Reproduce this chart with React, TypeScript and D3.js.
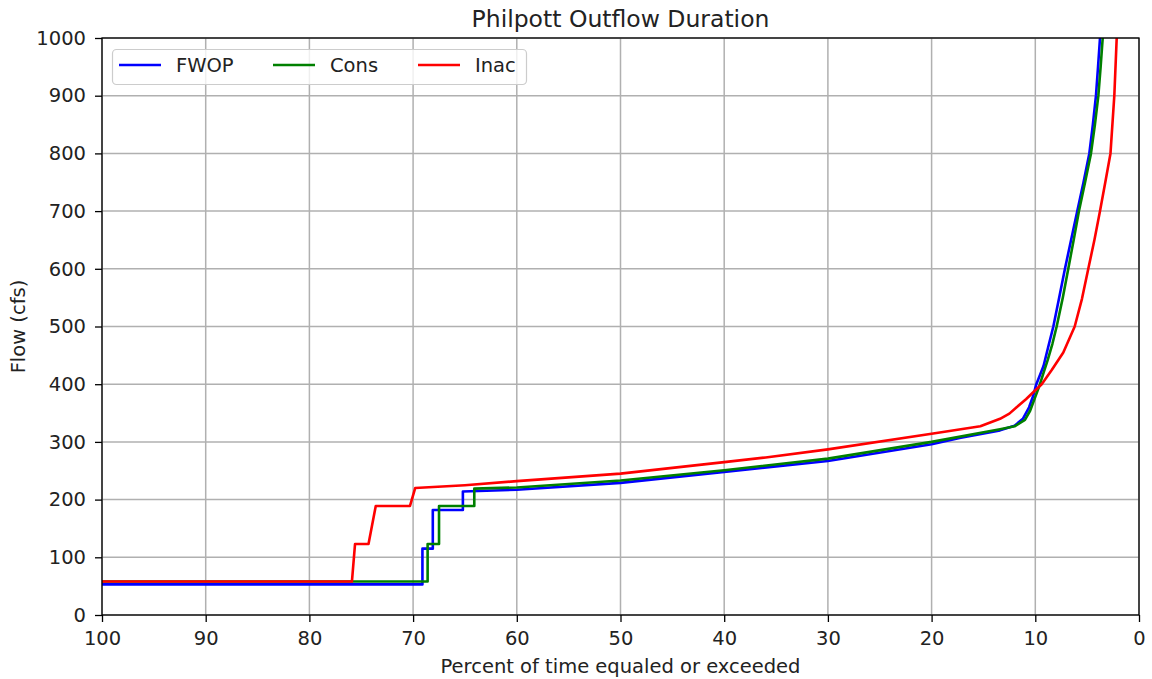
import React, { useEffect, useRef } from "react";
import * as d3 from "d3";

// flow duration curves: [percent exceeded, flow cfs]
const fwop: [number, number][] = [
  [100, 53], [69.1, 53], [69.1, 115], [68.1, 115], [68.1, 182], [65.2, 182], [65.2, 214],
  [60, 217], [50, 229], [40, 248], [30, 267], [20, 296], [17.3, 307], [13.4, 320],
  [12, 328], [11.2, 340], [10.6, 360], [10.2, 380], [9.9, 400], [9.5, 418], [9.2, 432],
  [8.75, 465], [8.26, 500], [7.7, 550], [7.14, 600], [6.55, 650], [5.95, 700], [5.35, 750],
  [4.79, 800], [4.45, 850], [4.15, 900], [3.95, 950], [3.76, 1000], [3.4, 1100],
];

const cons: [number, number][] = [
  [100, 58], [68.6, 58], [68.6, 123], [67.5, 123], [67.5, 189], [64.1, 189], [64.1, 219],
  [60, 221], [50, 233], [40, 251], [30, 271], [20, 300], [13.4, 322], [12, 327],
  [11, 338], [10.5, 354], [10, 378], [9.55, 400], [9.2, 420], [8.8, 442], [8.35, 470],
  [7.94, 500], [7.35, 550], [6.82, 600], [6.3, 650], [5.79, 700], [5.2, 750], [4.63, 800],
  [4.25, 850], [3.92, 900], [3.7, 950], [3.5, 1000], [3.15, 1100],
];

const inac: [number, number][] = [
  [100, 58], [75.9, 58], [75.6, 123], [74.3, 123], [73.6, 189], [70.3, 189], [69.8, 220],
  [65, 225], [60, 232], [50, 245], [40, 265], [36, 273], [30, 287], [20, 314], [15.3, 327],
  [13.4, 340], [12.5, 349], [11.8, 360], [10.9, 374], [10.2, 386], [9.38, 400], [8.4, 425],
  [7.3, 455], [6.2, 500], [5.5, 548], [4.89, 600], [4.3, 650], [3.76, 700], [3.25, 750],
  [2.75, 800], [2.38, 900], [2.15, 1000], [2.0, 1100],
];

const seriesNames = ["FWOP", "Cons", "Inac"];
const seriesColors = ["#0000ff", "#008000", "#ff0000"];
const xTicks = [100, 90, 80, 70, 60, 50, 40, 30, 20, 10, 0];
const yTicks = [0, 100, 200, 300, 400, 500, 600, 700, 800, 900, 1000];

const W = 1152;
const H = 679;
const margin = { top: 38, right: 13, bottom: 64, left: 102 };
const FONT = "'DejaVu Sans', sans-serif";

const App = () => {
  const ref = useRef<SVGSVGElement | null>(null);

  useEffect(() => {
    const svg = d3.select(ref.current);
    svg.selectAll("*").remove();

    const x = d3.scaleLinear().domain([100, 0]).range([margin.left, W - margin.right]);
    const y = d3.scaleLinear().domain([0, 1000]).range([H - margin.bottom, margin.top]);

    svg.append("rect").attr("width", W).attr("height", H).attr("fill", "#fff");

    svg
      .append("defs")
      .append("clipPath")
      .attr("id", "plot-clip")
      .append("rect")
      .attr("x", margin.left)
      .attr("y", margin.top)
      .attr("width", W - margin.left - margin.right)
      .attr("height", H - margin.top - margin.bottom);

    // grid
    const grid = svg.append("g");
    grid
      .selectAll("line.gx")
      .data(xTicks)
      .enter()
      .append("line")
      .attr("x1", (d) => x(d))
      .attr("x2", (d) => x(d))
      .attr("y1", margin.top)
      .attr("y2", H - margin.bottom)
      .attr("stroke", "#b0b0b0")
      .attr("stroke-width", 1.5);
    grid
      .selectAll("line.gy")
      .data(yTicks)
      .enter()
      .append("line")
      .attr("x1", margin.left)
      .attr("x2", W - margin.right)
      .attr("y1", (d) => y(d))
      .attr("y2", (d) => y(d))
      .attr("stroke", "#b0b0b0")
      .attr("stroke-width", 1.5);

    // curves
    const line = d3
      .line<[number, number]>()
      .x((d) => x(d[0]))
      .y((d) => y(d[1]));
    const all = [fwop, cons, inac];
    svg
      .append("g")
      .attr("clip-path", "url(#plot-clip)")
      .selectAll("path")
      .data(all)
      .enter()
      .append("path")
      .attr("d", (d) => line(d))
      .attr("fill", "none")
      .attr("stroke", (d, i) => seriesColors[i])
      .attr("stroke-width", 2.6)
      .attr("stroke-linejoin", "round");

    // axes
    const xAxis = svg
      .append("g")
      .attr("transform", `translate(0, ${H - margin.bottom})`)
      .call(
        d3.axisBottom(x).tickValues(xTicks).tickFormat(d3.format("d")).tickSize(7).tickSizeOuter(0).tickPadding(9)
      );
    const yAxis = svg
      .append("g")
      .attr("transform", `translate(${margin.left}, 0)`)
      .call(
        d3.axisLeft(y).tickValues(yTicks).tickFormat(d3.format("d")).tickSize(7).tickSizeOuter(0).tickPadding(9)
      );
    [xAxis, yAxis].forEach((a) => {
      a.select(".domain").remove();
      a.selectAll("line").attr("stroke", "#000").attr("stroke-width", 1.3);
      a.selectAll("text")
        .attr("fill", "#222")
        .style("font-family", FONT)
        .style("font-size", "19.5px");
    });

    // spines
    svg
      .append("rect")
      .attr("x", margin.left)
      .attr("y", margin.top)
      .attr("width", W - margin.left - margin.right)
      .attr("height", H - margin.top - margin.bottom)
      .attr("fill", "none")
      .attr("stroke", "#000")
      .attr("stroke-width", 1.3);

    // labels
    svg
      .append("text")
      .attr("x", (margin.left + W - margin.right) / 2)
      .attr("y", 27)
      .attr("text-anchor", "middle")
      .attr("fill", "#222")
      .style("font-family", FONT)
      .style("font-size", "23.5px")
      .text("Philpott Outflow Duration");
    svg
      .append("text")
      .attr("x", (margin.left + W - margin.right) / 2)
      .attr("y", 673)
      .attr("text-anchor", "middle")
      .attr("fill", "#222")
      .style("font-family", FONT)
      .style("font-size", "19.5px")
      .text("Percent of time equaled or exceeded");
    svg
      .append("text")
      .attr("transform", `translate(25, ${(margin.top + H - margin.bottom) / 2}) rotate(-90)`)
      .attr("text-anchor", "middle")
      .attr("fill", "#222")
      .style("font-family", FONT)
      .style("font-size", "19.5px")
      .text("Flow (cfs)");

    // legend
    const legend = svg.append("g");
    legend
      .append("rect")
      .attr("x", 112.5)
      .attr("y", 49.5)
      .attr("width", 414)
      .attr("height", 35)
      .attr("rx", 4)
      .attr("fill", "rgba(255,255,255,0.8)")
      .attr("stroke", "#cccccc")
      .attr("stroke-width", 1.2);
    const legendX = [119, 273, 418];
    seriesNames.forEach((name, i) => {
      legend
        .append("line")
        .attr("x1", legendX[i])
        .attr("x2", legendX[i] + 42)
        .attr("y1", 65)
        .attr("y2", 65)
        .attr("stroke", seriesColors[i])
        .attr("stroke-width", 2.6);
      legend
        .append("text")
        .attr("x", legendX[i] + 57)
        .attr("y", 72)
        .attr("fill", "#222")
        .style("font-family", FONT)
        .style("font-size", "19.5px")
        .text(name);
    });
  }, []);

  return (
    <div style={{ position: "absolute", left: 0, top: 0 }}>
      <svg ref={ref} width={W} height={H} style={{ display: "block" }} />
    </div>
  );
};

export default App;
